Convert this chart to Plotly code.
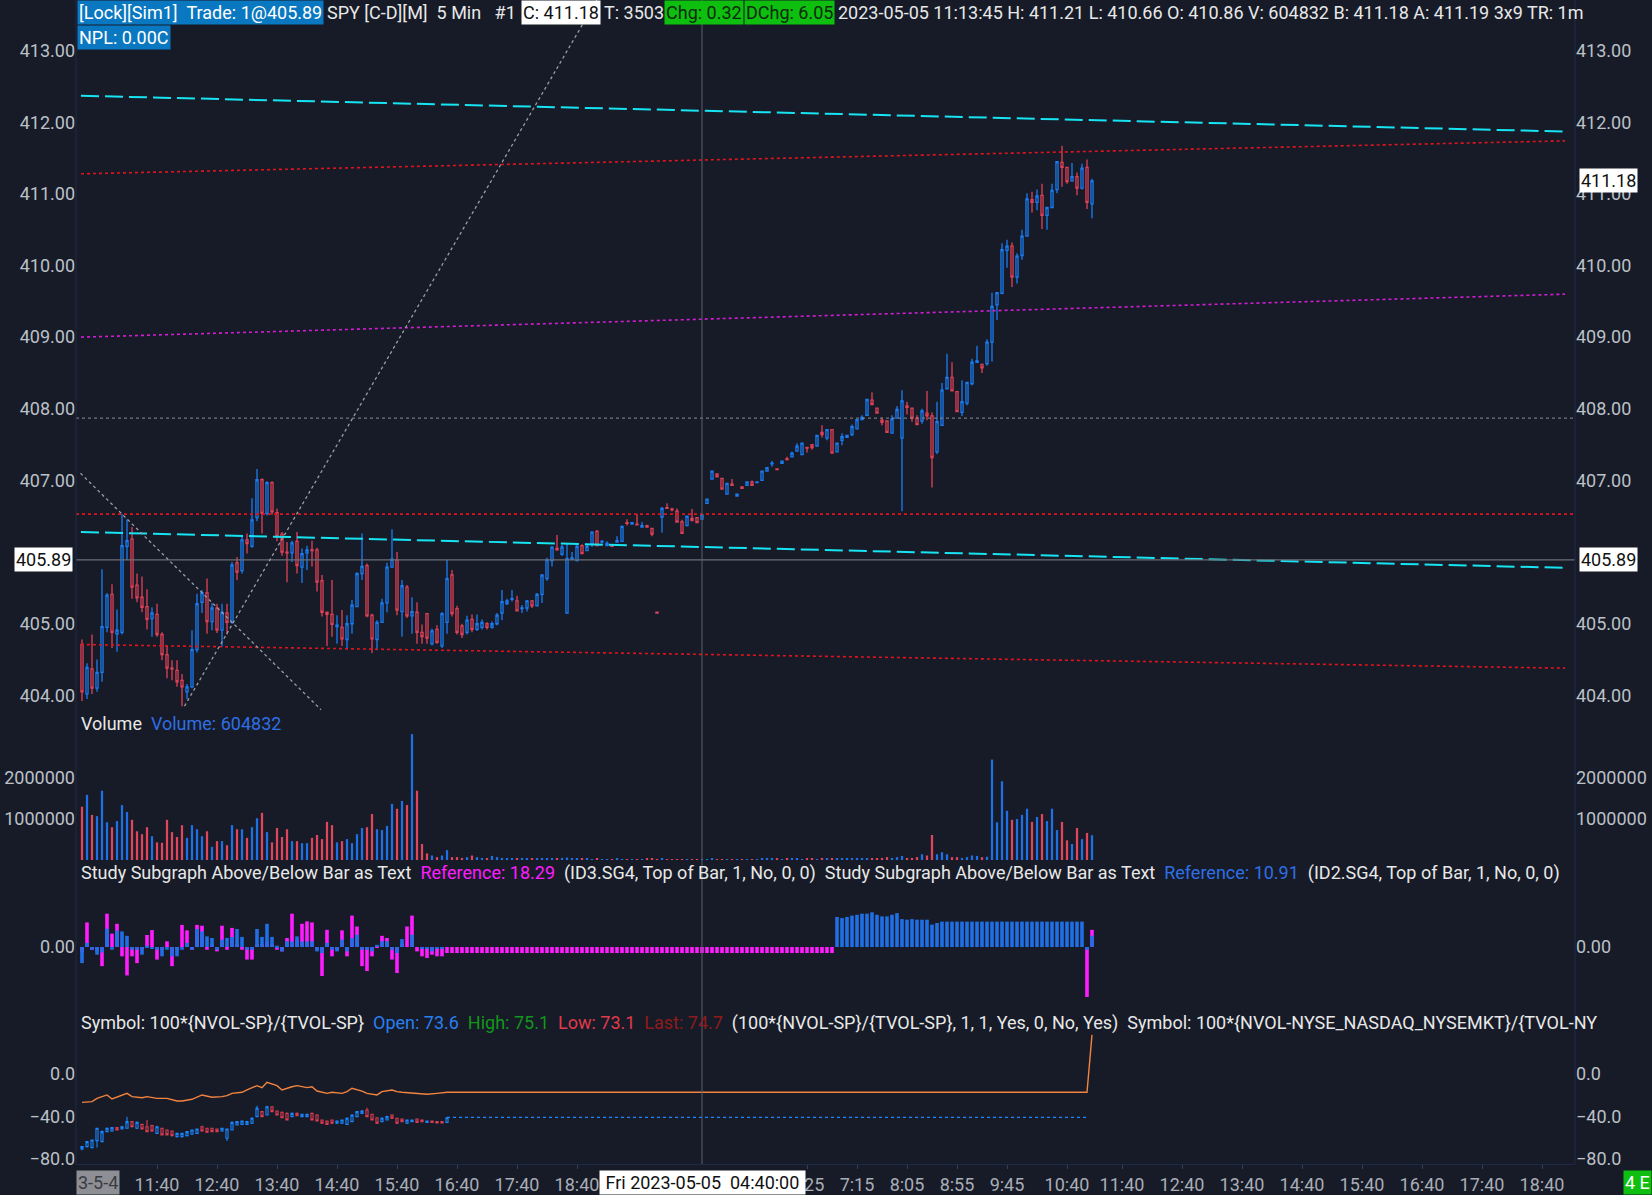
import plotly.graph_objects as go

# SPY 5 min bars, index 0 = first bar drawn (2023-05-04 late morning)
px_open = [
    404.71, 404.02, 404.37, 404.10, 404.32, 404.95, 405.41, 404.86, 404.88, 406.08,
    406.18, 405.54, 405.37, 405.24, 405.07, 405.13, 404.85, 404.57, 404.38, 404.35,
    404.21, 404.05, 404.12, 404.64, 405.30, 405.43, 405.03, 405.22, 404.91, 405.15,
    405.02, 405.85, 405.74, 406.17, 406.08, 406.48, 407.01, 406.54, 406.97, 406.55,
    406.25, 406.00, 405.99, 406.15, 405.79, 405.99, 406.03, 406.03, 405.60, 405.16,
    405.13, 404.96, 404.95, 404.78, 405.00, 405.24, 405.70, 405.81, 405.12, 404.78,
    405.02, 405.29, 405.79, 405.89, 405.17, 405.51, 405.11, 405.16, 404.88, 405.14,
    404.72, 404.92, 404.69, 405.02, 405.68, 405.21, 404.97, 404.88, 405.06, 404.92,
    404.95, 405.00, 404.95, 405.00, 405.15, 405.28, 405.34, 405.32, 405.21, 405.22,
    405.32, 405.25, 405.41, 405.63, 405.88, 406.05, 405.97, 405.15, 405.90, 405.88,
    406.09, 406.02, 406.11, 406.29, 406.14, 406.09, 406.09, 406.14, 406.15, 406.41,
    406.39, 406.39, 406.35, 406.37, 406.33, 405.16, 406.49, 406.62, 406.60, 406.57,
    406.42, 406.37, 406.47, 406.48, 406.46, 406.68, 407.02, 407.09, 407.03, 406.81,
    406.95, 406.78, 406.91, 406.93, 406.98, 406.97, 407.00, 407.13, 407.23, 407.16,
    407.24, 407.30, 407.33, 407.41, 407.36, 407.46, 407.50, 407.48, 407.67, 407.59,
    407.71, 407.40, 407.56, 407.60, 407.64, 407.72, 407.85, 407.91, 408.12, 408.01,
    407.84, 407.83, 407.66, 407.87, 407.59, 408.04, 408.01, 407.87, 407.83, 407.94,
    407.90, 407.40, 407.77, 408.28, 408.44, 408.24, 407.95, 408.08, 408.35, 408.65,
    408.62, 408.63, 408.93, 409.45, 409.61, 410.21, 410.27, 409.84, 410.14, 410.41,
    410.92, 410.88, 410.98, 410.70, 410.81, 411.06, 411.44, 411.37, 411.18, 411.24,
    411.08, 411.37, 410.86,
]
px_high = [
    404.78, 404.45, 404.85, 404.50, 405.76, 405.43, 405.55, 405.20, 406.53, 406.46,
    406.35, 405.70, 405.66, 405.48, 405.23, 405.28, 404.88, 404.70, 404.49, 404.49,
    404.30, 404.16, 404.91, 405.42, 405.47, 405.63, 405.29, 405.28, 405.28, 405.28,
    405.86, 405.93, 406.23, 406.26, 406.75, 407.16, 407.03, 406.99, 406.99, 406.61,
    406.28, 406.14, 406.16, 406.28, 406.05, 406.09, 406.16, 406.06, 405.68, 405.17,
    405.61, 405.12, 405.19, 405.12, 405.33, 405.72, 406.26, 405.84, 405.14, 405.05,
    405.35, 405.85, 406.32, 406.00, 405.61, 405.54, 405.37, 405.30, 404.99, 405.14,
    404.93, 404.98, 405.16, 405.89, 405.75, 405.25, 405.00, 405.11, 405.13, 405.13,
    405.06, 405.02, 405.03, 405.15, 405.47, 405.35, 405.47, 405.39, 405.26, 405.33,
    405.33, 405.43, 405.68, 405.92, 406.08, 406.24, 406.10, 406.12, 406.00, 406.10,
    406.11, 406.12, 406.29, 406.31, 406.17, 406.15, 406.10, 406.22, 406.37, 406.46,
    406.42, 406.53, 406.42, 406.38, 406.34, 405.16, 406.63, 406.68, 406.62, 406.61,
    406.45, 406.50, 406.60, 406.49, 406.52, 406.74, 407.13, 407.09, 407.03, 406.96,
    407.02, 406.81, 406.91, 406.98, 407.00, 406.98, 407.13, 407.18, 407.27, 407.16,
    407.27, 407.33, 407.40, 407.52, 407.52, 407.46, 407.50, 407.63, 407.77, 407.71,
    407.71, 407.52, 407.66, 407.63, 407.78, 407.85, 407.91, 408.13, 408.23, 408.01,
    407.88, 407.83, 407.91, 408.04, 408.26, 408.10, 408.01, 407.91, 408.00, 408.25,
    407.95, 408.10, 408.36, 408.77, 408.65, 408.24, 408.40, 408.37, 408.70, 408.88,
    408.62, 408.97, 409.62, 409.63, 410.31, 410.36, 410.32, 410.17, 410.50, 411.01,
    411.03, 411.06, 411.14, 410.81, 411.14, 411.46, 411.67, 411.37, 411.43, 411.30,
    411.42, 411.48, 411.21,
]
px_low = [
    403.92, 403.95, 404.02, 404.05, 404.19, 404.88, 404.66, 404.61, 404.85, 405.89,
    405.35, 405.30, 405.16, 404.92, 404.82, 404.82, 404.49, 404.24, 404.21, 404.12,
    403.85, 403.95, 404.10, 404.60, 405.15, 404.86, 404.91, 404.87, 404.68, 404.85,
    405.00, 405.61, 405.70, 405.98, 406.06, 406.43, 406.26, 406.51, 406.52, 406.15,
    405.95, 405.58, 405.86, 405.70, 405.57, 405.75, 405.80, 405.45, 405.10, 404.69,
    404.82, 404.72, 404.69, 404.64, 404.86, 405.23, 405.61, 405.09, 404.59, 404.63,
    405.01, 405.16, 405.78, 405.12, 404.82, 405.08, 404.86, 404.72, 404.72, 404.72,
    404.70, 404.72, 404.66, 404.86, 405.10, 404.85, 404.80, 404.85, 404.88, 404.90,
    404.92, 404.92, 404.93, 404.98, 405.05, 405.26, 405.31, 405.18, 405.15, 405.17,
    405.22, 405.24, 405.29, 405.60, 405.80, 406.02, 405.95, 405.14, 405.89, 405.87,
    405.97, 406.02, 406.07, 406.09, 406.12, 406.09, 406.08, 406.14, 406.15, 406.37,
    406.39, 406.38, 406.35, 406.35, 406.22, 405.15, 406.27, 406.61, 406.57, 406.42,
    406.26, 406.37, 406.44, 406.41, 406.46, 406.68, 407.02, 407.05, 406.88, 406.81,
    406.93, 406.78, 406.89, 406.93, 406.93, 406.97, 407.00, 407.13, 407.19, 407.15,
    407.24, 407.28, 407.33, 407.41, 407.36, 407.39, 407.43, 407.48, 407.60, 407.56,
    407.38, 407.40, 407.49, 407.60, 407.62, 407.72, 407.85, 407.91, 408.06, 407.94,
    407.77, 407.67, 407.66, 407.87, 406.57, 407.92, 407.82, 407.78, 407.79, 407.84,
    406.90, 407.37, 407.77, 408.27, 408.25, 407.96, 407.90, 408.05, 408.33, 408.65,
    408.50, 408.60, 408.66, 409.24, 409.60, 409.97, 409.70, 409.75, 410.08, 410.40,
    410.74, 410.77, 410.51, 410.50, 410.80, 411.01, 411.10, 411.14, 411.17, 410.98,
    411.06, 410.79, 410.66,
]
px_close = [
    404.05, 404.39, 404.10, 404.32, 404.96, 405.40, 404.88, 404.91, 406.09, 406.16,
    405.51, 405.36, 405.23, 405.06, 405.15, 404.85, 404.57, 404.38, 404.37, 404.19,
    404.12, 404.12, 404.64, 405.28, 405.43, 405.03, 405.22, 404.91, 405.16, 405.02,
    405.82, 405.72, 406.17, 406.12, 406.45, 407.01, 406.54, 406.97, 406.56, 406.22,
    406.00, 405.99, 406.13, 405.81, 405.98, 406.03, 406.02, 405.58, 405.16, 405.13,
    404.99, 404.98, 404.79, 405.00, 405.26, 405.70, 405.80, 405.11, 404.79, 405.02,
    405.29, 405.79, 405.90, 405.19, 405.53, 405.11, 405.17, 404.88, 404.82, 404.80,
    404.90, 404.74, 405.14, 405.63, 405.14, 404.88, 404.85, 405.05, 404.92, 405.00,
    405.02, 404.95, 405.00, 405.12, 405.31, 405.32, 405.35, 405.18, 405.22, 405.32,
    405.25, 405.41, 405.68, 405.89, 406.07, 406.03, 406.07, 405.91, 405.92, 406.08,
    405.98, 406.08, 406.28, 406.09, 406.15, 406.12, 406.08, 406.16, 406.36, 406.40,
    406.41, 406.38, 406.37, 406.35, 406.25, 405.15, 406.61, 406.61, 406.59, 406.42,
    406.26, 406.50, 406.44, 406.41, 406.52, 406.74, 407.13, 407.05, 406.88, 406.96,
    406.93, 406.81, 406.89, 406.98, 406.93, 406.98, 407.13, 407.18, 407.24, 407.15,
    407.27, 407.29, 407.38, 407.48, 407.52, 407.45, 407.46, 407.63, 407.64, 407.71,
    407.38, 407.52, 407.61, 407.63, 407.75, 407.85, 407.88, 408.13, 408.06, 407.94,
    407.81, 407.67, 407.86, 407.99, 408.11, 408.02, 407.87, 407.78, 407.97, 407.90,
    407.32, 407.82, 408.26, 408.44, 408.25, 407.96, 408.10, 408.37, 408.65, 408.67,
    408.57, 408.93, 409.43, 409.62, 410.22, 410.27, 409.84, 410.13, 410.41, 410.93,
    410.88, 410.97, 410.70, 410.81, 411.05, 411.45, 411.37, 411.17, 411.24, 411.08,
    411.36, 410.88, 411.18,
]
volume = [
    1300000, 1590000, 1100000, 1070000, 1690000, 920000, 800000, 950000, 1340000, 1170000,
    980000, 700000, 630000, 800000, 580000, 430000, 420000, 980000, 680000, 560000,
    850000, 540000, 850000, 750000, 580000, 700000, 320000, 460000, 460000, 360000,
    850000, 750000, 750000, 540000, 800000, 1020000, 1150000, 680000, 430000, 780000,
    560000, 750000, 460000, 460000, 410000, 410000, 540000, 610000, 510000, 930000,
    850000, 430000, 460000, 510000, 410000, 630000, 780000, 800000, 1120000, 750000,
    730000, 830000, 1370000, 1250000, 1440000, 1340000, 3070000, 1690000, 390000, 160000,
    110000, 70000, 110000, 240000, 70000, 70000, 50000, 70000, 110000, 70000,
    50000, 30000, 100000, 70000, 50000, 30000, 40000, 30000, 50000, 40000,
    30000, 40000, 50000, 30000, 30000, 40000, 50000, 60000, 30000, 40000,
    30000, 30000, 20000, 30000, 20000, 20000, 20000, 30000, 20000, 20000,
    20000, 20000, 20000, 30000, 40000, 20000, 30000, 20000, 20000, 20000,
    20000, 20000, 20000, 20000, 20000, 20000, 30000, 20000, 20000, 20000,
    20000, 20000, 20000, 20000, 20000, 20000, 30000, 30000, 50000, 30000,
    20000, 30000, 30000, 30000, 20000, 30000, 30000, 20000, 30000, 30000,
    40000, 30000, 30000, 30000, 40000, 50000, 40000, 50000, 40000, 30000,
    50000, 70000, 50000, 70000, 100000, 50000, 50000, 70000, 140000, 110000,
    610000, 140000, 190000, 140000, 70000, 70000, 50000, 70000, 110000, 100000,
    70000, 80000, 2450000, 920000, 1920000, 1200000, 980000, 1000000, 1100000, 1250000,
    930000, 1050000, 1120000, 950000, 1250000, 730000, 930000, 480000, 390000, 780000,
    510000, 660000, 604832,
]
# "Study Subgraph Above/Below Bar as Text" histograms
study_id3 = [
    -2.0, 9.0, -1.0, -1.5, -7.0, 12.2, 4.9, 8.5, -3.4, -10.4,
    -3.4, -5.9, -1.0, 4.4, 6.2, -4.6, -1.0, 2.1, -7.0, -1.0,
    8.1, 6.1, -1.0, 8.1, 7.8, -1.0, 1.0, -1.6, 7.8, -1.0,
    7.0, 1.0, -1.0, -4.6, -4.6, 1.0, 1.0, 2.0, 1.0, -1.0,
    -1.6, 3.3, 12.2, 2.7, 8.5, 9.4, 9.0, -1.0, -10.6, 6.3,
    -3.4, -1.0, 6.1, -3.4, 11.5, 7.5, -7.0, -8.8, -3.4, 0.5,
    4.1, 3.3, -4.6, -9.5, 1.0, 7.5, 11.5, -1.6, -3.4, -4.0,
    -2.8, -3.4, -3.4, -2.2, -2.2, -2.2, -2.2, -2.2, -2.2, -2.2,
    -2.2, -2.2, -2.2, -2.2, -2.2, -2.2, -2.2, -2.2, -2.2, -2.2,
    -2.2, -2.2, -2.2, -2.2, -2.2, -2.2, -2.2, -2.2, -2.2, -2.2,
    -2.2, -2.2, -2.2, -2.2, -2.2, -2.2, -2.2, -2.2, -2.2, -2.2,
    -2.2, -2.2, -2.2, -2.2, -2.2, -2.2, -2.2, -2.2, -2.2, -2.2,
    -2.2, -2.2, -2.2, -2.2, -2.2, -2.2, -2.2, -2.2, -2.2, -2.2,
    -2.2, -2.2, -2.2, -2.2, -2.2, -2.2, -2.2, -2.2, -2.2, -2.2,
    -2.2, -2.2, -2.2, -2.2, -2.2, -2.2, -2.2, -2.2, -2.2, -2.2,
    -2.2, 0.0, 0.0, 0.0, 0.0, 0.0, 0.0, 0.0, 0.0, 0.0,
    0.0, 0.0, 0.0, 0.0, 0.0, 0.0, 0.0, 0.0, 0.0, 0.0,
    0.0, 0.0, 0.0, 0.0, 0.0, 0.0, 0.0, 0.0, 0.0, 0.0,
    0.0, 0.0, 0.0, 0.0, 0.0, 0.0, 0.0, 0.0, 0.0, 0.0,
    0.0, 0.0, 0.0, 0.0, 0.0, 0.0, 0.0, 0.0, 0.0, 0.0,
    0.0, -18.29, 6.3,
]
study_id2 = [
    -5.9, 1.5, -1.0, -2.8, -2.0, 6.7, -1.0, 6.0, 5.7, 4.1,
    -1.0, -1.0, -2.8, 0.5, -0.4, -1.0, -3.4, -1.0, -3.4, -3.4,
    -1.0, 1.5, -1.0, 6.6, 5.7, 3.9, 3.3, -1.0, 2.7, 3.3,
    3.7, 6.6, 3.7, -1.0, -1.0, 6.6, 3.7, 8.5, 3.7, 0.5,
    -1.6, 2.1, 2.0, 3.9, 2.0, 2.0, 2.1, -1.6, -2.2, 1.5,
    -1.0, -1.6, 2.7, -1.6, 3.3, 4.5, -1.0, -1.0, -1.6, 0.8,
    2.1, 2.1, -1.0, -2.2, 2.9, 0.0, 4.5, 0.0, -0.5, -0.5,
    -1.6, -0.5, -0.5, 0.0, 0.0, 0.0, 0.0, 0.0, 0.0, 0.0,
    0.0, 0.0, 0.0, 0.0, 0.0, 0.0, 0.0, 0.0, 0.0, 0.0,
    0.0, 0.0, 0.0, 0.0, 0.0, 0.0, 0.0, 0.0, 0.0, 0.0,
    0.0, 0.0, 0.0, 0.0, 0.0, 0.0, 0.0, 0.0, 0.0, 0.0,
    0.0, 0.0, 0.0, 0.0, 0.0, 0.0, 0.0, 0.0, 0.0, 0.0,
    0.0, 0.0, 0.0, 0.0, 0.0, 0.0, 0.0, 0.0, 0.0, 0.0,
    0.0, 0.0, 0.0, 0.0, 0.0, 0.0, 0.0, 0.0, 0.0, 0.0,
    0.0, 0.0, 0.0, 0.0, 0.0, 0.0, 0.0, 0.0, 0.0, 0.0,
    0.0, 11.0, 10.6, 11.0, 11.5, 11.8, 12.2, 12.2, 12.7, 11.8,
    11.2, 11.2, 11.8, 12.4, 10.2, 10.0, 10.2, 10.0, 10.0, 10.0,
    8.2, 8.8, 9.3, 9.3, 9.3, 9.3, 9.3, 9.3, 9.3, 9.3,
    9.3, 9.3, 9.3, 9.3, 9.3, 9.3, 9.3, 9.3, 9.3, 9.3,
    9.3, 9.3, 9.3, 9.3, 9.3, 9.3, 9.3, 9.3, 9.3, 9.3,
    9.3, -1.0, 4.1,
]
# 100*{NVOL-SP}/{TVOL-SP} bars (only the first 74 bars have data)
nv_open = [
    -70.9, -68.7, -69.6, -63.0, -63.9, -54.5, -53.9, -50.7, -52.0, -51.3,
    -45.0, -51.3, -47.6, -49.8, -48.8, -56.1, -51.3, -52.9, -53.9, -59.2,
    -59.2, -58.3, -57.0, -56.1, -49.8, -51.3, -51.3, -52.0, -53.9, -60.8,
    -52.9, -48.2, -47.6, -47.6, -46.6, -40.3, -35.6, -38.7, -30.9, -35.0,
    -36.2, -37.2, -40.3, -37.2, -40.3, -40.3, -37.2, -38.7, -43.5, -44.4,
    -43.5, -46.6, -46.6, -47.6, -45.0, -40.3, -37.2, -34.0, -38.1, -41.3,
    -45.0, -43.5, -38.7, -41.9, -42.5, -46.6, -45.0, -42.5, -43.5, -45.7,
    -44.4, -45.0, -45.0, -45.7,
]
nv_high = [
    -68.0, -63.5, -62.0, -51.0, -53.5, -50.5, -50.0, -50.2, -49.0, -40.3,
    -44.5, -45.0, -47.0, -43.5, -48.0, -49.0, -51.0, -52.5, -53.5, -55.5,
    -55.5, -54.0, -52.5, -51.5, -49.0, -51.0, -51.0, -51.5, -51.0, -51.5,
    -45.0, -44.5, -44.0, -44.5, -41.0, -30.0, -35.0, -30.0, -30.5, -34.5,
    -35.5, -36.5, -36.5, -36.5, -37.5, -37.5, -36.5, -38.0, -43.0, -44.0,
    -43.0, -44.0, -43.0, -41.0, -38.0, -35.0, -34.0, -32.0, -37.5, -41.0,
    -41.0, -39.5, -38.0, -41.5, -42.0, -43.0, -43.0, -42.0, -43.0, -44.0,
    -44.0, -44.5, -44.5, -41.0,
]
nv_low = [
    -72.0, -69.5, -70.0, -69.6, -64.5, -55.0, -54.5, -53.5, -52.5, -51.8,
    -50.5, -52.0, -52.5, -55.0, -54.5, -56.6, -58.0, -58.0, -59.0, -60.0,
    -60.0, -59.0, -57.5, -56.6, -54.5, -55.8, -55.0, -55.0, -54.5, -63.3,
    -53.5, -48.8, -48.2, -48.2, -47.2, -40.8, -41.0, -39.2, -36.2, -39.2,
    -41.8, -44.0, -40.8, -40.0, -40.8, -40.8, -44.0, -45.0, -47.2, -48.2,
    -47.2, -47.2, -47.2, -48.2, -45.6, -40.8, -37.8, -40.8, -44.0, -47.2,
    -45.6, -44.0, -42.5, -47.2, -45.6, -47.2, -45.6, -46.3, -45.6, -46.3,
    -46.3, -46.8, -46.8, -46.3,
]
nv_close = [
    -68.7, -63.9, -62.4, -51.3, -54.5, -51.3, -50.7, -52.9, -49.8, -45.0,
    -49.8, -45.7, -52.0, -54.5, -53.9, -49.8, -57.6, -57.6, -58.3, -56.1,
    -56.1, -54.5, -52.9, -52.0, -53.9, -55.1, -54.5, -54.5, -51.3, -52.0,
    -45.7, -45.0, -44.4, -45.0, -41.9, -32.4, -40.3, -30.9, -35.6, -38.7,
    -41.3, -43.5, -37.2, -39.4, -38.1, -38.1, -43.5, -44.4, -46.6, -47.6,
    -46.6, -44.4, -43.5, -41.9, -38.7, -35.6, -35.0, -40.3, -43.5, -46.6,
    -41.9, -40.3, -41.9, -46.6, -45.0, -43.5, -43.5, -45.7, -45.0, -44.4,
    -45.7, -46.3, -46.3, -41.3,
]
nv_flat_bars = [73, 201]
nv_flat_vals = [-41.0, -41.0]
# 100*{NVOL-NYSE_NASDAQ_NYSEMKT}/{TVOL-...} line
breadth_bars = [0, 2, 3, 5, 6, 8, 9, 10, 12, 13, 15, 17, 19, 20, 22, 24, 26, 28, 29, 30,
                32, 33, 35, 36, 37, 39, 40, 42, 43, 45, 46, 47, 49, 50, 52, 53, 54, 56, 57, 59,
                60, 62, 63, 64, 66, 69, 71, 73, 201, 202]
breadth_vals = [-26.8, -26.1, -23.0, -19.8, -23.6, -20.5, -18.3, -21.4, -22.4, -21.4,
                -23.0, -23.0, -25.5, -25.5, -23.9, -19.8, -22.0, -21.4, -20.5, -18.3,
                -17.3, -15.1, -11.0, -12.9, -7.9, -11.0, -15.1, -12.0, -11.0, -12.9,
                -12.0, -16.1, -18.3, -17.3, -18.3, -16.7, -13.5, -16.1, -18.3, -19.8,
                -16.7, -15.1, -16.7, -17.3, -18.3, -19.2, -18.3, -17.3, -17.3, 37.0]

tick_bars = [15, 27, 39, 51, 63, 75, 87, 99, 145, 155, 165, 175, 185, 197,
             208, 220, 232, 244, 256, 268, 280, 292]
tick_labels = ["11:40", "12:40", "13:40", "14:40", "15:40", "16:40", "17:40", "18:40",
               "6:25", "7:15", "8:05", "8:55", "9:45", "10:40", "11:40", "12:40",
               "13:40", "14:40", "15:40", "16:40", "17:40", "18:40"]
# 406.00 sits under the trade-price box, so it is not labelled
price_ticks = [404, 405, 407, 408, 409, 410, 411, 412, 413]

# drawn lines on the price pane: [value at left, value at right]
line_ends = [-0.2, 296.6]
cyan_upper = [412.37, 411.87]
cyan_lower = [406.28, 405.78]
red_upper = [411.28, 411.74]
red_lower = [404.71, 404.38]
magenta_mid = [409.00, 409.60]
red_level = 406.53
grey_level = 407.87
trade_price = 405.89
last_price = 411.18
cursor_bar = 124
fan_up_bars, fan_up_prices = [20.5, 103.0], [403.85, 413.71]
fan_dn_bars, fan_dn_prices = [-0.3, 47.8], [407.10, 403.80]

BG = "#161b27"
UP = "#1a7cf2"
DOWN = "#e04157"
VOL_UP = "#1f6fe5"
VOL_DN = "#e0455c"
MAGENTA = "#ff1cff"
TICK = "#bcc0c8"
FONT = "Roboto"
FS = 18

W, H = 1652, 1195
L, R, T, B = 76, 77, 0, 31
PW, PH = W - L - R, H - T - B


def px(x):
    return (x - L) / PW


def py(y):
    return (PH - y) / PH


# pane edges in page pixels
panes = {"price": (0, 711), "vol": (711, 862), "study": (862, 1011), "nv": (1011, 1164)}


def dom(name):
    top, bot = panes[name]
    return [py(bot), py(top)]


bars = list(range(len(px_open)))
vol_colors = [VOL_UP if c >= o else VOL_DN for o, c in zip(px_open, px_close)]

fig = go.Figure()
fig.add_trace(go.Candlestick(
    x=bars, open=px_open, high=px_high, low=px_low, close=px_close, yaxis="y",
    increasing=dict(line=dict(color=UP, width=1.3), fillcolor=BG),
    decreasing=dict(line=dict(color=DOWN, width=1.3), fillcolor=BG),
    whiskerwidth=0, showlegend=False, name="SPY"))
fig.add_trace(go.Bar(x=list(range(len(volume))), y=volume, yaxis="y2", marker_color=vol_colors,
                     marker_line_width=0, width=0.45, showlegend=False, name="Volume"))
fig.add_trace(go.Bar(x=list(range(len(study_id3))), y=study_id3, yaxis="y3", marker_color=MAGENTA,
                     marker_line_width=0, width=0.72, showlegend=False, name="ID3.SG4"))
fig.add_trace(go.Bar(x=list(range(len(study_id2))), y=study_id2, yaxis="y3", marker_color=VOL_UP,
                     marker_line_width=0, width=0.72, showlegend=False, name="ID2.SG4"))
fig.add_trace(go.Scatter(x=breadth_bars, y=breadth_vals, yaxis="y4", mode="lines",
                         line=dict(color="#f3843f", width=1.4), showlegend=False))
fig.add_trace(go.Candlestick(
    x=list(range(len(nv_open))), open=nv_open, high=nv_high, low=nv_low, close=nv_close, yaxis="y4",
    increasing=dict(line=dict(color="#1a86ff", width=1.1), fillcolor=BG),
    decreasing=dict(line=dict(color="#e03c52", width=1.1), fillcolor=BG),
    whiskerwidth=0, showlegend=False, name="NVOL"))
fig.add_trace(go.Scatter(x=nv_flat_bars, y=nv_flat_vals, yaxis="y4", mode="lines",
                         line=dict(color="#1a86ff", width=1.4, dash="dot"), showlegend=False))

# ghost traces so the right-hand axes are drawn
for ax, xs, ys in (("y5", bars, px_close), ("y6", bars, volume),
                   ("y7", bars, study_id2), ("y8", breadth_bars, breadth_vals)):
    fig.add_trace(go.Scatter(x=xs, y=ys, yaxis=ax, mode="lines", line=dict(width=0), opacity=0,
                             hoverinfo="skip", showlegend=False))

tickfont = dict(family=FONT, size=FS, color=TICK)
ranges = {
    "price": [403.782, 413.706],
    "vol": [-49000, 3634000],
    "study": [-23.4, 31.1],
    "nv": [-85.1, 59.6],
}
ticks = {
    "price": (price_ticks, ".2f"),
    "vol": ([1000000, 2000000], "d"),
    "study": ([0], ".2f"),
    "nv": ([0, -40, -80], ".1f"),
}


def yaxis(name, side, overlay=None):
    d = dict(range=ranges[name], tickvals=ticks[name][0], tickformat=ticks[name][1],
             showgrid=False, zeroline=False, showline=False, ticks="", tickfont=tickfont,
             anchor="x", side=side, fixedrange=True)
    if overlay:
        d["overlaying"] = overlay
    else:
        d["domain"] = dom(name)
    return d


shapes = []
for vals, color, dash, wid in ((cyan_upper, "#17e4f2", "18px,6px", 2),
                               (cyan_lower, "#17e4f2", "18px,6px", 2),
                               (red_upper, "#e0141e", "dot", 1.6),
                               (red_lower, "#e0141e", "dot", 1.6),
                               (magenta_mid, "#d21ed2", "dot", 1.6)):
    shapes.append(dict(type="line", xref="x", yref="y", x0=line_ends[0], x1=line_ends[1],
                       y0=vals[0], y1=vals[1], line=dict(color=color, width=wid, dash=dash)))
shapes.append(dict(type="line", xref="paper", yref="y", x0=0, x1=1, y0=red_level, y1=red_level,
                   line=dict(color="#e0141e", width=1.6, dash="dot")))
shapes.append(dict(type="line", xref="paper", yref="y", x0=0, x1=1, y0=grey_level, y1=grey_level,
                   line=dict(color="#8a8d94", width=1, dash="dot")))
shapes.append(dict(type="line", xref="paper", yref="y", x0=0, x1=1, y0=trade_price, y1=trade_price,
                   line=dict(color="#6b6f78", width=1.2)))
shapes.append(dict(type="line", xref="x", yref="y", x0=fan_up_bars[0], x1=fan_up_bars[1],
                   y0=fan_up_prices[0], y1=fan_up_prices[1],
                   line=dict(color="#9a9da4", width=1.3, dash="dot")))
shapes.append(dict(type="line", xref="x", yref="y", x0=fan_dn_bars[0], x1=fan_dn_bars[1],
                   y0=fan_dn_prices[0], y1=fan_dn_prices[1],
                   line=dict(color="#9a9da4", width=1.3, dash="dot")))
shapes.append(dict(type="line", xref="x", yref="paper", x0=cursor_bar, x1=cursor_bar, y0=0, y1=1,
                   line=dict(color="#5c6069", width=1)))
for xe in (0, 1):
    shapes.append(dict(type="line", xref="paper", yref="paper", x0=xe, x1=xe, y0=0, y1=1,
                       line=dict(color="#1d2b4a", width=1)))

WHITE = "#e8e8e8"
NB = "\u00a0"


def note(text, x, y, color=WHITE, bg=None, anchor="left", **kw):
    d = dict(text=text, xref="paper", yref="paper", x=px(x), y=py(y), xanchor=anchor,
             yanchor="middle", showarrow=False, font=dict(family=FONT, size=FS, color=color),
             borderpad=1)
    if bg:
        d["bgcolor"] = bg
    d.update(kw)
    return d


def box(text, x, y, xanchor, xshift=0, yshift=0, xref="paper", yref="y", bg="white", color="#111111"):
    return dict(text=text, xref=xref, yref=yref, x=x, y=y, xanchor=xanchor, yanchor="middle",
                xshift=xshift, yshift=yshift, showarrow=False, bgcolor=bg, borderpad=1,
                font=dict(family=FONT, size=FS, color=color))


annotations = [
    note("[Lock][Sim1]" + NB * 2 + "Trade: 1@405.89", 77, 13, color="white", bg="#0a78c0"),
    note("SPY [C-D][M]" + NB * 2 + "5 Min" + NB * 3 + "#1", 325, 13),
    note("C: 411.18", 521, 13, color="#111111", bg="#ffffff"),
    note("T: 3503", 602, 13),
    note("Chg: 0.32", 664, 13, color="#0c2a0c", bg="#0fbf0f"),
    note("DChg: 6.05", 744, 13, color="#0c2a0c", bg="#0fbf0f"),
    note("2023-05-05 11:13:45 H: 411.21 L: 410.66 O: 410.86 V: 604832 B: 411.18 A: 411.19 3x9 TR: 1m",
         836, 13),
    note("NPL: 0.00C", 77, 38, color="white", bg="#0a78c0"),
    note("Volume" + NB * 2 + '<span style="color:#2f6fe6">Volume: 604832</span>', 79, 723),
    note("Study Subgraph Above/Below Bar as Text" + NB * 2
         + '<span style="color:#ff1cff">Reference: 18.29</span>' + NB * 2
         + "(ID3.SG4, Top of Bar, 1, No, 0, 0)" + NB * 2
         + "Study Subgraph Above/Below Bar as Text" + NB * 2
         + '<span style="color:#2f6fe6">Reference: 10.91</span>' + NB * 2
         + "(ID2.SG4, Top of Bar, 1, No, 0, 0)", 79, 873),
    note("Symbol: 100*{NVOL-SP}/{TVOL-SP}" + NB * 2
         + '<span style="color:#2a7ff0">Open: 73.6</span>' + NB * 2
         + '<span style="color:#14961a">High: 75.1</span>' + NB * 2
         + '<span style="color:#e03a4c">Low: 73.1</span>' + NB * 2
         + '<span style="color:#8e1b1b">Last: 74.7</span>' + NB * 2
         + "(100*{NVOL-SP}/{TVOL-SP}, 1, 1, Yes, 0, No, Yes)" + NB * 2
         + "Symbol: 100*{NVOL-NYSE_NASDAQ_NYSEMKT}/{TVOL-NY", 79, 1023),
    # price markers
    box(f"{trade_price:.2f}", 0, trade_price, "right", xshift=-3),
    box(f"{trade_price:.2f}", 1, trade_price, "left", xshift=4),
    box(f"{last_price:.2f}", 1, last_price, "left", xshift=4),
    # x-axis labels drawn as boxes
    box(NB + "Fri 2023-05-05" + NB * 2 + "04:40:00" + NB, cursor_bar, 0, "center", yshift=-18,
        xref="x", yref="paper"),
    box("3-5-4", 0, 0, "left", yshift=-18, yref="paper", bg="#8d8f94", color="#3a3c42"),
    box("4 E", 1, 0, "right", xshift=R, yshift=-18, yref="paper", bg="#0fbf0f", color="white"),
]

fig.update_layout(
    width=W, height=H, autosize=False,
    margin=dict(l=L, r=R, t=T, b=B),
    paper_bgcolor=BG, plot_bgcolor=BG,
    barmode="overlay", boxgap=0.4, showlegend=False, hovermode=False,
    font=dict(family=FONT, size=FS, color=WHITE),
    xaxis=dict(domain=[0, 1], anchor="y4", range=[-1.2, 298.6], tickvals=tick_bars,
               ticktext=tick_labels, ticks="outside", ticklen=4, tickcolor="#33405c",
               showline=True, linecolor="#1d2b4a", showgrid=False, zeroline=False,
               tickfont=dict(family=FONT, size=FS, color="#a9adb6"),
               rangeslider=dict(visible=False), fixedrange=True),
    yaxis=yaxis("price", "left"),
    yaxis2=yaxis("vol", "left"),
    yaxis3=yaxis("study", "left"),
    yaxis4=yaxis("nv", "left"),
    yaxis5=yaxis("price", "right", "y"),
    yaxis6=yaxis("vol", "right", "y2"),
    yaxis7=yaxis("study", "right", "y3"),
    yaxis8=yaxis("nv", "right", "y4"),
    shapes=shapes,
    annotations=annotations,
)

fig.write_html("out.html", config={"displayModeBar": False},
               post_script="document.body.style.margin='0';document.body.style.overflow='hidden';")
